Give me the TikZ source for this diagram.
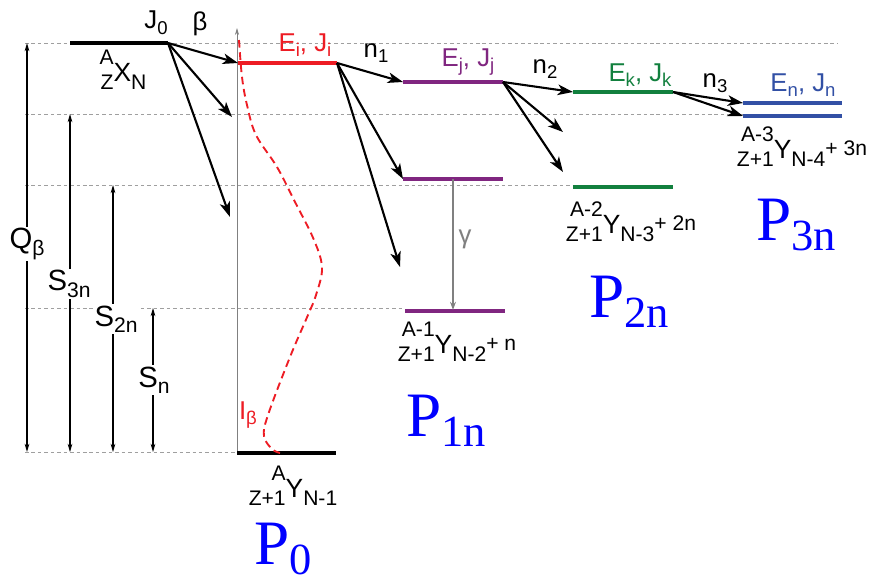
\documentclass[tikz,border=0pt]{standalone}
\usepackage{fontspec}
\setmainfont{Liberation Sans}
\newfontfamily\serifP{Liberation Serif}
\usetikzlibrary{positioning,arrows.meta}
\definecolor{lvred}{RGB}{237,28,36}
\definecolor{lvpurple}{RGB}{128,38,128}
\definecolor{lvgreen}{RGB}{18,128,62}
\definecolor{lvblue}{RGB}{50,80,165}
\definecolor{pblue}{RGB}{0,0,255}
\newcommand{\loS}[1]{\raisebox{-.22em}{\fontsize{\fpeval{.72*\csname f@size\endcsname}}{1pt}\selectfont#1}}
\newcommand{\nucl}[5]{\raisebox{-7.5pt}{\fontsize{18}{21}\selectfont\begin{tabular}[b]{@{}r@{}}#1\\[1pt]#2\end{tabular}}#3\raisebox{-7.5pt}{\fontsize{18}{18}\selectfont#4}\raisebox{2.5pt}{\fontsize{18}{18}\selectfont#5}}
\newcommand{\Plab}[2]{{\serifP\fontsize{54}{54}\selectfont #1\raisebox{-9pt}{\fontsize{38}{38}\selectfont #2}}}
\tikzset{
  guide/.style={draw=gray!75, line width=0.6pt, dash pattern=on 3pt off 2.5pt},
  lvl/.style={line width=2.6pt},
  gnd/.style={line width=4pt},
  decay/.style={line width=1.8pt, -{Stealth[length=13pt,width=9pt,inset=3.5pt]}},
  gapline/.style={line width=#1, {Stealth[length=7pt,width=4pt]}-{Stealth[length=7pt,width=4pt]}},
  lab/.style={font=\fontsize{22}{24}\selectfont},
  biglab/.style={font=\fontsize{25}{27}\selectfont, fill=white, inner sep=1.5pt},
  nuc/.style={font=\fontsize{22.5}{24}\selectfont, inner sep=0pt},
  plab/.style={text=pblue, inner sep=0pt},
}

\begin{document}
\begin{tikzpicture}[x=3mm,y=-3mm]
\useasboundingbox (0,0) rectangle (87.3,58.6);
% thresholds
\foreach \y/\xe in {4.3/83.8, 11.4/74.3, 18.5/57.3, 30.8/40.5, 45.2/23.7}
    \draw[guide] (2.5,\y) -- (\xe,\y);
\draw[gray, line width=0.6pt, -{Stealth[length=6pt,width=3.5pt]}] (23.7,45.2) coordinate (ax0) -- (23.7,2.8) coordinate (ax1);
\foreach \n/\x/\y/\w in {qb/2.7/4.3/1.6pt, s3/7.0/11.4/0.9pt, s2/11.3/18.5/0.9pt, s1/15.3/30.8/0.9pt}
    \draw[gapline=\w] (\x,45.2) -- (\x,\y) coordinate (\n);
\node (qlab) at (2.7,24.4) [biglab] {Q\loS{β}};
\node (s3lab) at (6.9,28.4) [biglab] {S\loS{3n}};
\node (s2lab) at (11.6,31.9) [biglab] {S\loS{2n}};
\node (s1lab) at (15.4,38.0) [biglab] {S\loS{n}};
% levels
\draw[gnd] (7,4.3) coordinate (x0) -- (16.8,4.3) coordinate (x1);
\draw[gnd] (23.7,45.3) coordinate (y0) -- (33.6,45.3) coordinate (y1);
\draw[lvl,lvred] (23.8,6.3) coordinate (i0) -- (33.7,6.3) coordinate (i1);
\draw[lvl,lvpurple] (40.3,8.2) coordinate (j0) -- (50.3,8.2) coordinate (j1);
\draw[lvl,lvpurple] (40.3,17.9) coordinate (h0) -- (50.3,17.9) coordinate (h1);
\draw[gnd,lvpurple] (40.5,31.1) coordinate (p0) -- (50.5,31.1) coordinate (p1);
\draw[lvl,lvgreen] (57.3,9.2) coordinate (k0) -- (67.3,9.2) coordinate (k1);
\draw[gnd,lvgreen] (57.3,18.7) coordinate (q0) -- (67.3,18.7) coordinate (q1);
\draw[lvl,lvblue] (74.3,10.3) coordinate (n0) -- (84.2,10.3) coordinate (n1);
\draw[gnd,lvblue] (74.3,11.6) coordinate (m0) -- (84.2,11.6) coordinate (m1);
% decays
\draw[decay] (x1) -- (i0);
\foreach \n/\x/\y in {b2/23.2/11.7, b3/23.0/21.7}
    \draw[decay] (x1) -- (\x,\y) coordinate (\n);
\draw[decay] (i1) -- (j0);
\draw[decay] (i1) -- (h0);
\draw[decay] (i1) -- (40.0,26.7) coordinate (c3);
\draw[decay] (j1) -- (k0);
\foreach \n/\x/\y in {d2/56.3/13.2, d3/56.3/17.2}
    \draw[decay] (j1) -- (\x,\y) coordinate (\n);
\draw[decay] (k1) -- (n0);
\draw[decay] (k1) -- (m0);
\draw[gray, line width=1.6pt, -{Stealth[length=7pt,width=5pt]}] (45.3,17.9) coordinate (gt) -- (45.3,31.0) coordinate (gb);
\draw[lvred, line width=1.6pt, dash pattern=on 6.5pt off 4pt] plot[smooth,tension=0.6] coordinates {(23.9,4.0) (24.2,7.7) (24.7,10.5) (25.6,13.5) (27.7,16.7) (29.4,20) (31.4,24) (32.2,26.8) (31.6,29.5) (30.8,31.5) (29,35.7) (26.8,41.5) (26.4,43.6) (27.2,44.9) (28.0,45.3)};
% labels
\node (jlab) at (15.6,2.3) [lab] {J\loS{0}};
\node (blab) at (20.0,2.4) [lab] {β};
\node (xnuc) at (12.3,7.2) [nuc] {\nucl{A}{Z}{X}{N}{}};
\node (eilab) at (30.5,4.5) [lab,text=lvred] {E\loS{i}, J\loS{i}};
\node (n1lab) at (37.6,5.3) [lab] {n\loS{1}};
\node (ejlab) at (46.8,6.2) [lab,text=lvpurple] {E\loS{j}, J\loS{j}};
\node (n2lab) at (54.5,6.9) [lab] {n\loS{2}};
\node (eklab) at (64.0,7.5) [lab,text=lvgreen] {E\loS{k}, J\loS{k}};
\node (n3lab) at (71.5,8.3) [lab] {n\loS{3}};
\node (enlab) at (80.3,8.5) [lab,text=lvblue] {E\loS{n}, J\loS{n}};
\node (glab) at (46.5,23.9) [lab,text=gray] {γ};
\node (ilab) at (24.8,41.5) [lab,text=lvred] {I\loS{β}};
\node (ynuc0) at (29.3,48.8) [nuc] {\nucl{A}{Z+1}{Y}{N-1}{}};
\node (ynuc1) at (45.7,34.4) [nuc] {\nucl{A-1}{Z+1}{Y}{N-2}{+ n}};
\node (ynuc2) at (63.1,22.4) [nuc] {\nucl{A-2}{Z+1}{Y}{N-3}{+ 2n}};
\node (ynuc3) at (80.2,14.9) [nuc] {\nucl{A-3}{Z+1}{Y}{N-4}{+ 3n}};
\node (P0) at (28.3,54.9) [plab] {\Plab{P}{0}};
\node (P1) at (44.6,42.1) [plab] {\Plab{P}{1n}};
\node (P2) at (62.9,30.2) [plab] {\Plab{P}{2n}};
\node (P3) at (79.6,22.5) [plab] {\Plab{P}{3n}};
\end{tikzpicture}
\end{document}
